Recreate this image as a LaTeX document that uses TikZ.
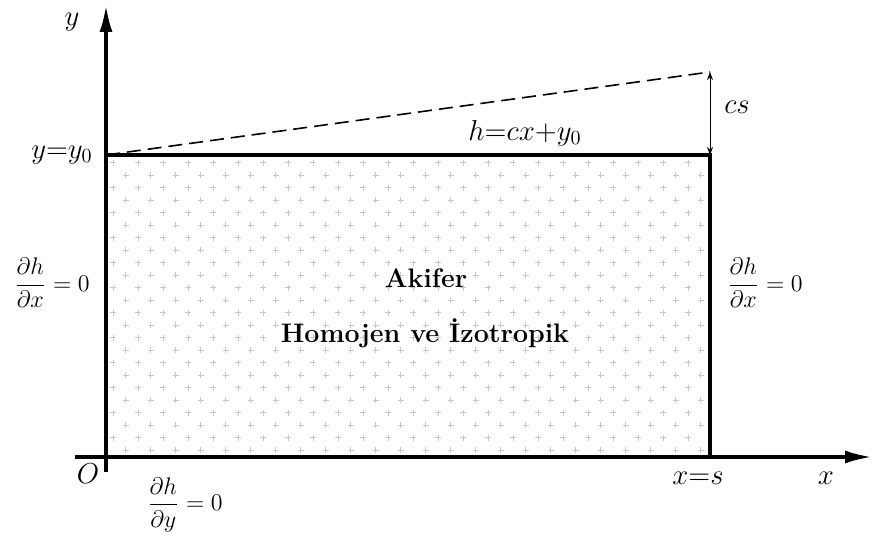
\documentclass[tikz,border=0pt]{standalone}
\usepackage{amsmath}
\usetikzlibrary{arrows.meta}
\definecolor{axink}{HTML}{000000}
\definecolor{dotgray}{HTML}{C8C8C8}
\newcommand{\pder}[2]{$\dfrac{\partial #1}{\partial #2}=0$}

\begin{document}
\begin{tikzpicture}[x=0.5pt, y=-0.5pt,
    axis/.style={draw=axink, line width=2pt, -{Latex[length=14pt, width=6.5pt]}},
    wall/.style={draw=axink, line width=2pt},
    head/.style={draw=axink, line width=0.8pt, dash pattern=on 7pt off 3.5pt},
    gap/.style={draw=axink, line width=0.5pt, {Stealth[length=4pt, width=3pt]}-{Stealth[length=4pt, width=3pt]}},
    lab/.style={font=\fontsize{14}{16}\selectfont, inner sep=0pt},
    cond/.style={font=\fontsize{13}{15}\selectfont, inner sep=0pt},
    zone/.style={font=\bfseries\fontsize{13.4}{15}\selectfont, inner sep=0pt},
  ]
  \useasboundingbox (0, 0) rectangle (873, 544);

  % corners of the aquifer
  \coordinate (O) at (106, 457);
  \coordinate (S) at (710, 457);
  \coordinate (Y0) at (106, 155);
  \coordinate (T) at (710, 155);
  \coordinate (H) at (710, 72);
  \coordinate (xend) at (873, 457);
  \coordinate (yend) at (106, 4);
  \coordinate (xbeg) at (75, 457);
  \coordinate (ybeg) at (106, 472);

  % dotted fill: small crosses on a staggered grid
  \foreach \r in {0,...,23} {
    \pgfmathsetmacro{\yy}{163 + 12.5*\r}
    \pgfmathsetmacro{\xs}{mod(\r, 2) == 0 ? 113 : 125.5}
    \foreach \c in {0,...,23} {
      \pgfmathsetmacro{\xx}{\xs + 25*\c}
      \ifdim\xx pt<705pt
        \ifdim\yy pt<452pt
          \draw[dotgray, line width=0.5pt] (\xx-3, \yy) -- (\xx+3, \yy) (\xx, \yy-3) -- (\xx, \yy+3);
        \fi
      \fi
    }
  }

  % axes and walls
  \draw[axis] (xbeg) -- (xend);
  \draw[axis] (ybeg) -- (yend);
  \draw[wall] (Y0) -- (T) -- (S);
  \draw[head] (Y0) -- (H);
  \draw[gap] (T) -- (H);

  % labels
  \node[lab] (ylab) at (72, 22) {$y$};
  \node[lab] (y0lab) at (62, 155) {$y{=}y_0$};
  \node[lab] (cslab) at (737, 107) {$cs$};
  \node[lab] (hlab) at (525, 133) {$h{=}cx{+}y_0$};
  \node[lab] (olab) at (88, 474) {$O$};
  \node[lab] (slab) at (698, 478) {$x{=}s$};
  \node[lab] (xlab) at (826, 478) {$x$};

  \node[cond] (left) at (52, 283) {\pder{h}{x}};
  \node[cond] (right) at (765, 283) {\pder{h}{x}};
  \node[cond] (bottom) at (185, 505) {\pder{h}{y}};

  \node[zone] (akifer) at (426, 278) {Akifer};
  \node[zone] (homojen) at (425, 333) {Homojen ve İzotropik};
\end{tikzpicture}
\end{document}
